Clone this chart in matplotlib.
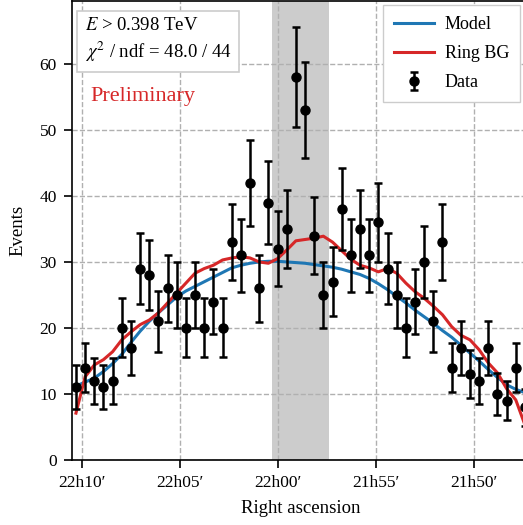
import matplotlib
matplotlib.use('Agg')
import matplotlib.pyplot as plt
import numpy as np

plt.rcParams['font.family'] = ['Liberation Serif', 'DejaVu Serif']
plt.rcParams['mathtext.fontset'] = 'stix'

# 数据：每个 bin 的计数，bin 中心为赤经（度）
counts = [11, 14, 12, 11, 12, 20, 17, 29, 28, 21,
          26, 25, 20, 25, 20, 24, 20, 33, 31, 42,
          26, 39, 32, 35, 58, 53, 34, 25, 27, 38,
          31, 35, 31, 36, 29, 25, 20, 24, 30, 21,
          33, 14, 17, 13, 12, 17, 10, 9, 14, 8]
model = [11.2, 11.8, 12.4, 13.4, 14.6, 16.0, 17.8, 19.5, 21.0, 22.3,
         23.5, 24.7, 25.6, 26.3, 27.0, 27.7, 28.4, 29.1, 29.5, 29.8,
         30.0, 30.1, 30.1, 30.0, 29.9, 29.8, 29.6, 29.4, 29.2, 28.9,
         28.5, 28.1, 27.5, 26.7, 25.8, 24.8, 23.8, 22.7, 21.7, 20.7,
         19.6, 18.6, 17.4, 16.2, 15.0, 13.7, 12.5, 11.4, 10.7, 10.2]
ring_bg = [7.1, 12.6, 14.4, 15.2, 16.4, 18.2, 19.4, 20.5, 21.2, 22.3,
           23.8, 25.3, 26.8, 28.3, 29.0, 29.5, 30.3, 30.6, 30.8, 30.6,
           30.0, 29.8, 30.5, 31.8, 33.2, 33.4, 33.6, 33.9, 33.0, 31.7,
           30.4, 29.5, 29.1, 28.5, 29.0, 28.3, 26.8, 25.5, 24.5, 23.3,
           22.0, 20.2, 18.9, 18.2, 16.7, 14.7, 13.2, 10.8, 9.1, 5.3]
ra_first, ra_last = 332.577, 326.850   # 第一个和最后一个 bin 中心（度）
ra = np.linspace(ra_first, ra_last, len(counts))
band = (330.077, 329.349)              # 灰色区域
ra_ticks = [332.5, 331.25, 330.0, 328.75, 327.5]


def ra_label(deg):
    hrs = deg / 15.0
    h = int(hrs)
    m = int(round((hrs - h) * 60))
    if m == 60:
        h, m = h + 1, 0
    return '%dh%02d\u2032' % (h, m)


fig = plt.figure(figsize=(5.23, 5.25), dpi=100)
ax = fig.add_axes([72 / 523, 65 / 525, 458 / 523, 459.5 / 525])

ax.axvspan(band[0], band[1], color='#cccccc', lw=0, zorder=0)
ax.grid(True, ls='--', color='#b0b0b0', lw=1, zorder=0.5)

counts = np.array(counts)
ax.plot(ra, model, color='#1f77b4', lw=2.2, label='Model', zorder=3)
ax.plot(ra, ring_bg, color='#d62728', lw=2.2, label='Ring BG', zorder=3)
ax.errorbar(ra, counts, yerr=np.sqrt(counts), fmt='o', color='black', ms=6.5,
            elinewidth=1.8, capsize=3.2, capthick=1.8, label='Data', zorder=4)

ax.set_xlim(332.6276, 326.7857)
ax.set_ylim(0, 69.6)
ax.set_xticks(ra_ticks)
ax.set_xticklabels([ra_label(t) for t in ra_ticks])
ax.set_yticks(range(0, 70, 10))
ax.tick_params(direction='out', length=6, width=1.2, pad=5, labelsize=12.5)
for s in ax.spines.values():
    s.set_linewidth(1.2)

ax.set_xlabel('Right ascension', fontsize=13.5, labelpad=6)
ax.set_ylabel('Events', fontsize=13.5, labelpad=9)

ax.text(0.028, 0.964, '$E$ > 0.398 TeV\n$\\chi^2$ / ndf = 48.0 / 44',
        transform=ax.transAxes, va='top', ha='left', fontsize=13.5,
        linespacing=1.3,
        bbox=dict(boxstyle='square,pad=0.42', fc='white', ec='#cccccc', lw=1.2),
        zorder=5)
ax.text(0.04, 0.79, 'Preliminary', transform=ax.transAxes, color='#d62728',
        fontsize=16, va='center', ha='left', zorder=5)

ax.legend(loc='upper right', bbox_to_anchor=(0.978, 0.99), borderaxespad=0,
          fontsize=13, framealpha=1, edgecolor='#cccccc', fancybox=False,
          handlelength=2.2, handletextpad=0.6, labelspacing=0.68,
          borderpad=0.6)

fig.savefig('out.png', dpi=100)
